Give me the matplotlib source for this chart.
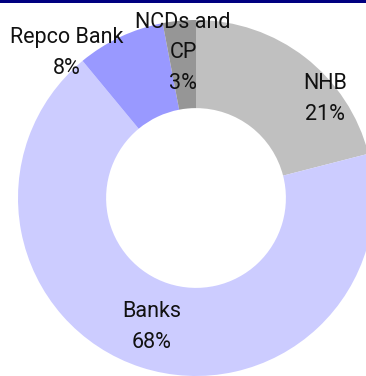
import matplotlib.pyplot as plt
from matplotlib.patches import Rectangle

# Funding mix (share of borrowings, %)
categories = ["NHB", "Banks", "Repco Bank", "NCDs and\nCP"]
shares = [21, 68, 8, 3]
colors = ["#C0C0C0", "#CCCCFF", "#9999FF", "#969696"]

# label anchor points in axes data units (pie radius = 1)
label_pos = [(0.725, 0.556), (-0.25, -0.725), (-0.725, 0.815), (-0.073, 0.815)]

plt.rcParams["font.family"] = ["Roboto", "DejaVu Sans"]


def main():
    fig = plt.figure(figsize=(3.66, 3.76), dpi=100)
    W, H = 366, 376
    cx, cy, r = 196, 198, 178
    ax = fig.add_axes([(cx - r) / W, (H - cy - r) / H, 2 * r / W, 2 * r / H])

    ax.pie(
        shares,
        colors=colors,
        startangle=90,
        counterclock=False,
        radius=1,
        wedgeprops=dict(width=0.495, edgecolor="none"),
    )
    ax.set_xlim(-1, 1)
    ax.set_ylim(-1, 1)
    ax.set_aspect("equal")
    ax.axis("off")

    for name, val, (x, y) in zip(categories, shares, label_pos):
        ax.text(x, y, f"{name}\n{val}%", ha="center", va="center",
                fontsize=15.5, color="#111111", linespacing=1.58)

    # navy rule along the top edge
    fig.add_artist(Rectangle((0, 1 - 2.5 / H), 1, 2.5 / H, transform=fig.transFigure,
                             facecolor="#000080", edgecolor="none", clip_on=False))

    fig.savefig("out.png", dpi=100)


if __name__ == "__main__":
    main()
